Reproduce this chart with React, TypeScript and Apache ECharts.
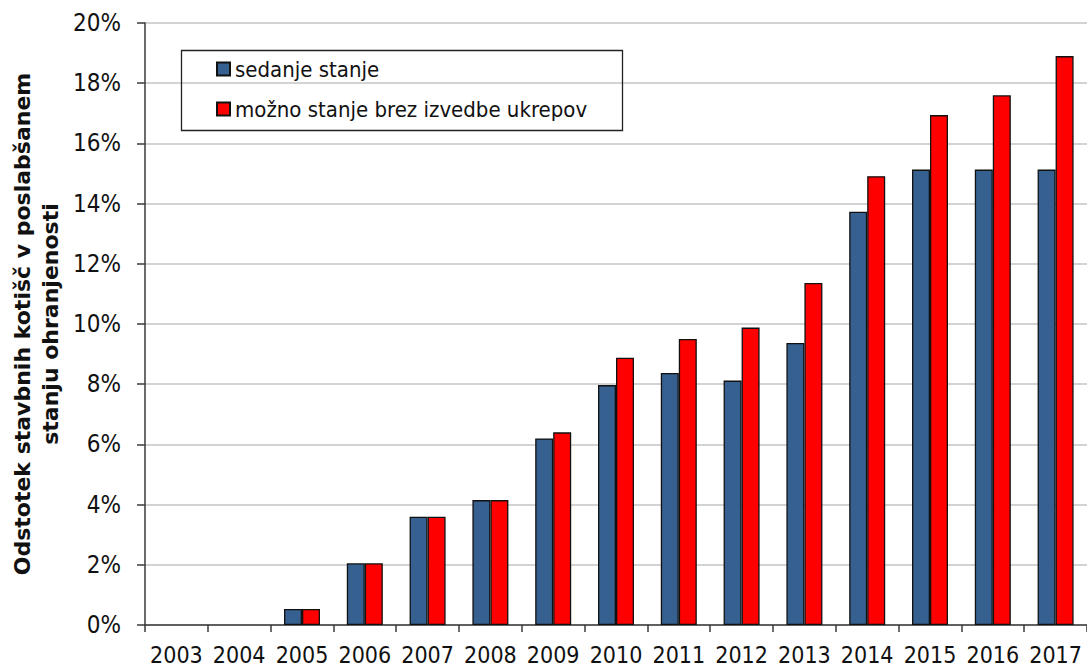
import React, { useEffect, useRef } from "react";
import * as echarts from "echarts";

const years = ["2003", "2004", "2005", "2006", "2007", "2008", "2009", "2010", "2011", "2012", "2013", "2014", "2015", "2016", "2017"];
// Current state (%)
const sedanjeStanje = [0, 0, 0.53, 2.05, 3.6, 4.15, 6.2, 7.97, 8.37, 8.12, 9.37, 13.73, 15.13, 15.13, 15.13];
// Possible state without measures (%)
const moznoStanje = [0, 0, 0.53, 2.05, 3.6, 4.15, 6.4, 8.88, 9.5, 9.88, 11.36, 14.91, 16.94, 17.6, 18.9];
const seriesNames = ["sedanje stanje", "možno stanje brez izvedbe ukrepov"];
const yTitleLines = ["Odstotek stavbnih kotišč v poslabšanem", "stanju ohranjenosti"];

const FONT = "'DejaVu Sans Condensed', 'DejaVu Sans', sans-serif";
const BOLD_FONT = "'DejaVu Sans', sans-serif";

export default function App() {
  const ref = useRef<HTMLDivElement>(null);

  useEffect(() => {
    if (!ref.current) return;
    const chart = echarts.init(ref.current, undefined, { renderer: "svg" });
    // empty years have no bar at all (avoids a border line at zero)
    const bar = (name: string, data: number[], color: string) => ({
      name,
      type: "bar",
      data: data.map((v) => (v === 0 ? "-" : v)),
      barWidth: 18,
      barGap: "0%",
      itemStyle: { color, borderColor: "#111", borderWidth: 1.3 },
    });
    const titleLine = (text: string, x: number) => ({
      type: "text",
      x,
      y: 324,
      rotation: Math.PI / 2,
      style: {
        text,
        fontFamily: BOLD_FONT,
        fontWeight: "bold",
        fontSize: 22,
        fill: "#111",
        align: "center",
        verticalAlign: "middle",
      },
    });
    chart.setOption({
      animation: false,
      backgroundColor: "#fff",
      textStyle: { fontFamily: FONT },
      grid: { left: 145, top: 23, bottom: 43, right: -9, containLabel: false },
      legend: {
        orient: "vertical",
        left: 216,
        top: 58,
        itemWidth: 13,
        itemHeight: 13,
        itemGap: 18,
        padding: 0,
        icon: "rect",
        textStyle: { fontFamily: FONT, fontSize: 22, lineHeight: 22, color: "#111" },
        data: seriesNames,
      },
      xAxis: {
        type: "category",
        data: years,
        axisLine: { lineStyle: { color: "#3a3a3a", width: 1.5 } },
        axisTick: { show: true, length: 7, lineStyle: { color: "#3a3a3a", width: 1.5 } },
        axisLabel: { fontFamily: FONT, fontSize: 23, color: "#111", margin: 18, interval: 0 },
      },
      yAxis: {
        type: "value",
        min: 0,
        max: 20,
        interval: 2,
        axisLine: { show: true, lineStyle: { color: "#3a3a3a", width: 1.5 } },
        axisTick: { show: true, length: 8, lineStyle: { color: "#3a3a3a", width: 1.5 } },
        axisLabel: { fontFamily: FONT, fontSize: 24, color: "#111", margin: 24, formatter: "{value}%" },
        splitLine: { lineStyle: { color: "#c4c4c4", width: 1.5 } },
      },
      graphic: [
        {
          type: "rect",
          left: 179,
          top: 48,
          shape: { width: 441, height: 80 },
          style: { fill: "none", stroke: "#222", lineWidth: 1.3 },
          z: 100,
        },
        titleLine(yTitleLines[0], 22),
        titleLine(yTitleLines[1], 50),
      ],
      series: [bar(seriesNames[0], sedanjeStanje, "#36608f"), bar(seriesNames[1], moznoStanje, "#ff0000")],
    });
    return () => chart.dispose();
  }, []);

  return <div ref={ref} style={{ position: "absolute", left: 0, top: 0, width: 1087, height: 668 }} />;
}
